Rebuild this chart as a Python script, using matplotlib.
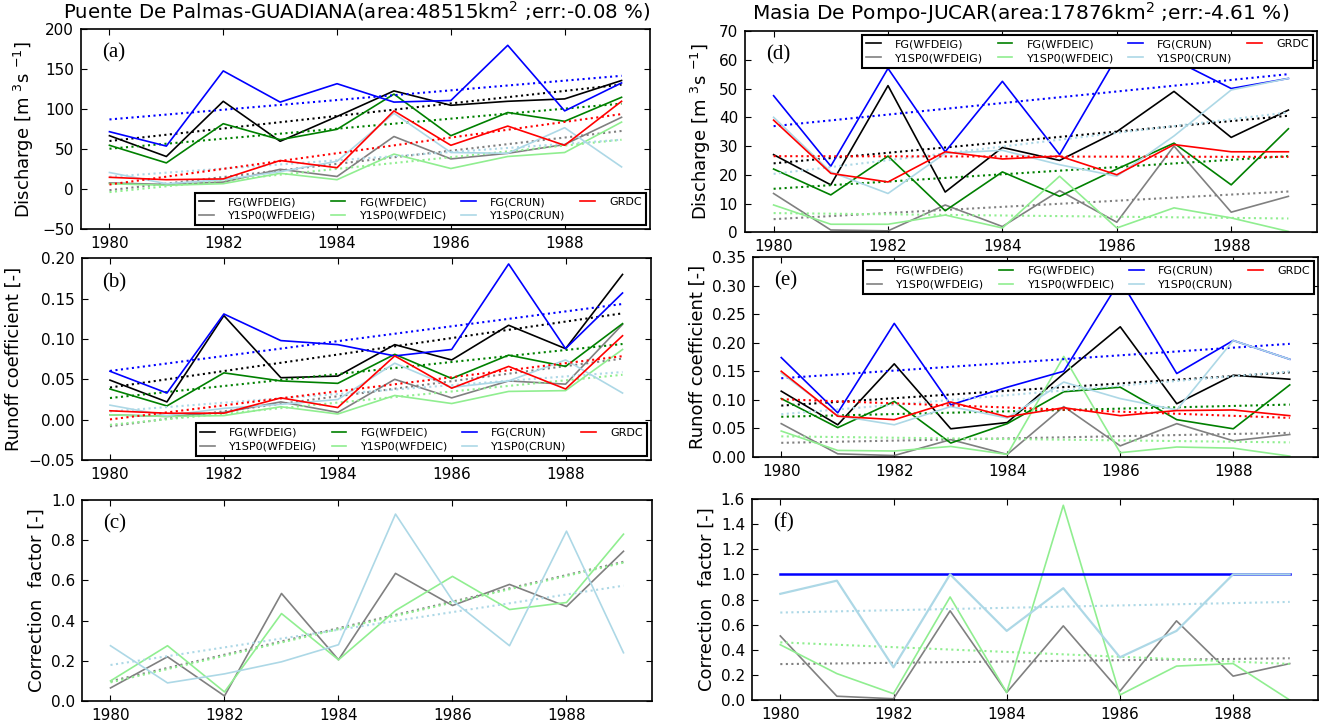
import numpy as np
import matplotlib
matplotlib.use('Agg')
import matplotlib.pyplot as plt

plt.rcParams['font.family'] = ['DejaVu Sans']
plt.rcParams['mathtext.fontset'] = 'dejavusans'

years = [1980, 1981, 1982, 1983, 1984, 1985, 1986, 1987, 1988, 1989]
xticks = [1980, 1982, 1984, 1986, 1988]

labels = ['FG(WFDEIG)', 'Y1SP0(WFDEIG)', 'FG(WFDEIC)', 'Y1SP0(WFDEIC)',
          'FG(CRUN)', 'Y1SP0(CRUN)', 'GRDC']
colors = ['black', 'gray', 'green', 'lightgreen', 'blue', 'lightblue', 'red']

title_left = 'Puente De Palmas-GUADIANA(area:48515km$^2$ ;err:-0.08 %)'
title_right = 'Masia De Pompo-JUCAR(area:17876km$^2$ ;err:-4.61 %)'

# (a) discharge, Puente De Palmas
a_fg_wfdeig = [67, 41, 110, 60, 91, 123, 105, 110, 113, 136]
a_y1_wfdeig = [8, 6, 9, 25, 16, 66, 38, 45, 56, 90]
a_fg_wfdeic = [55, 33, 82, 62, 75, 119, 67, 96, 85, 115]
a_y1_wfdeic = [7, 5, 7, 20, 12, 44, 26, 41, 46, 84]
a_fg_crun = [72, 54, 148, 109, 132, 109, 111, 180, 98, 133]
a_y1_crun = [21, 7, 12, 22, 35, 95, 46, 45, 77, 28]
a_grdc = [15, 12, 13, 36, 27, 98, 55, 79, 55, 110]

# (b) runoff coefficient, Puente De Palmas
b_fg_wfdeig = [0.049, 0.022, 0.129, 0.052, 0.054, 0.093, 0.074, 0.117, 0.088, 0.180]
b_y1_wfdeig = [0.006, 0.004, 0.009, 0.022, 0.009, 0.050, 0.027, 0.048, 0.044, 0.118]
b_fg_wfdeic = [0.038, 0.017, 0.058, 0.048, 0.045, 0.081, 0.051, 0.080, 0.066, 0.119]
b_y1_wfdeic = [0.006, 0.004, 0.005, 0.016, 0.007, 0.030, 0.020, 0.035, 0.036, 0.087]
b_fg_crun = [0.060, 0.033, 0.131, 0.098, 0.093, 0.079, 0.087, 0.193, 0.088, 0.157]
b_y1_crun = [0.018, 0.005, 0.014, 0.019, 0.025, 0.070, 0.040, 0.048, 0.074, 0.033]
b_grdc = [0.011, 0.008, 0.008, 0.027, 0.015, 0.079, 0.039, 0.066, 0.038, 0.104]

# (c) correction factor, Puente De Palmas
c_y1_wfdeig = [0.065, 0.22, 0.025, 0.535, 0.205, 0.635, 0.475, 0.58, 0.47, 0.745]
c_y1_wfdeic = [0.10, 0.275, 0.045, 0.435, 0.205, 0.45, 0.62, 0.455, 0.49, 0.83]
c_y1_crun = [0.275, 0.09, 0.135, 0.195, 0.28, 0.93, 0.50, 0.275, 0.845, 0.24]

# (d) discharge, Masia De Pompo
d_fg_wfdeig = [27, 16.5, 51, 14, 29.5, 25, 35, 49, 33, 42.5]
d_y1_wfdeig = [13.5, 0.8, 0.5, 9.5, 2, 14.5, 3.5, 30, 7, 12.5]
d_fg_wfdeic = [22, 13, 26.5, 7.5, 21, 12.5, 22, 31, 16.5, 36]
d_y1_wfdeic = [9.5, 2.8, 2.8, 6, 1.5, 19.5, 1.5, 8.5, 5, 0.3]
d_fg_crun = [47.5, 23, 57, 28, 52.5, 27, 61, 60, 50, 53.5]
d_y1_crun = [40, 21, 13.5, 27.5, 28.5, 23.5, 19.5, 33.5, 49.5, 53.5]
d_grdc = [39, 20.5, 17.5, 28, 25.5, 26.5, 20, 30.5, 28, 28]

# (e) runoff coefficient, Masia De Pompo
e_fg_wfdeig = [0.115, 0.056, 0.163, 0.049, 0.060, 0.146, 0.228, 0.093, 0.143, 0.136]
e_y1_wfdeig = [0.058, 0.005, 0.002, 0.030, 0.004, 0.088, 0.019, 0.058, 0.028, 0.039]
e_fg_wfdeic = [0.102, 0.051, 0.097, 0.024, 0.058, 0.114, 0.122, 0.065, 0.049, 0.126]
e_y1_wfdeic = [0.045, 0.011, 0.010, 0.018, 0.004, 0.176, 0.007, 0.017, 0.015, 0.001]
e_fg_crun = [0.174, 0.077, 0.234, 0.091, 0.122, 0.150, 0.310, 0.146, 0.204, 0.171]
e_y1_crun = [0.147, 0.072, 0.056, 0.088, 0.068, 0.131, 0.102, 0.082, 0.204, 0.171]
e_grdc = [0.150, 0.071, 0.065, 0.096, 0.070, 0.086, 0.072, 0.081, 0.082, 0.072]

# (f) correction factor, Masia De Pompo
f_y1_wfdeig = [0.51, 0.03, 0.01, 0.71, 0.06, 0.59, 0.07, 0.63, 0.19, 0.29]
f_y1_wfdeic = [0.44, 0.21, 0.05, 0.82, 0.06, 1.55, 0.04, 0.27, 0.29, 0.0]
f_y1_crun = [0.845, 0.95, 0.26, 1.0, 0.55, 0.89, 0.34, 0.55, 1.0, 1.0]
f_fg_crun = [1.0, 1.0, 1.0, 1.0, 1.0, 1.0, 1.0, 1.0, 1.0, 1.0]

W, H = 1325, 721
fig = plt.figure(figsize=(W / 100, H / 100), dpi=100)


def make_ax(l, t, r, b):
    return fig.add_axes([l / W, 1 - b / H, (r - l) / W, (b - t) / H])


def style(ax, ylim, yticks, fmt, ylabel, tag):
    ax.set_xlim(1979.5, 1989.5)
    ax.set_ylim(*ylim)
    ax.set_xticks(xticks)
    ax.set_yticks(yticks)
    ax.set_yticklabels([fmt.format(v).replace('-', '\u2212') for v in yticks])
    ax.tick_params(direction='in', top=True, right=True, length=4.5,
                   width=0.8, labelsize=11, pad=5)
    for s in ax.spines.values():
        s.set_linewidth(1.2)
        s.set_zorder(5)
    ax.set_ylabel(ylabel, fontsize=13, labelpad=4)
    ax.text(0.037, 0.88, tag, transform=ax.transAxes, fontsize=15,
            family='Liberation Serif', ha='left', va='center')


def draw(ax, series, cols, trend_flags=None, widths=None):
    hs = []
    for i, (vals, c) in enumerate(zip(series, cols)):
        lw = widths[i] if widths else 1.2
        h, = ax.plot(years, vals, '-', color=c, lw=lw, zorder=2 + 0.01 * i)
        if trend_flags is None or trend_flags[i]:
            p = np.polyfit(years, vals, 1)
            ax.plot(years, np.polyval(p, years), ':', color=c, lw=1.5,
                    zorder=2 + 0.01 * i)
        hs.append(h)
    return hs


def legend(ax, hs, loc):
    leg = ax.legend(hs, labels, ncol=4, loc=loc, fontsize=8,
                    handlelength=1.3, handletextpad=1.3, columnspacing=1.3,
                    fancybox=False, edgecolor='black', framealpha=1,
                    borderaxespad=0.35, borderpad=0.4, labelspacing=0.35)
    leg.get_frame().set_linewidth(1.5)
    leg.set_zorder(6)


disc_label = 'Discharge [m $^{3}$s $^{-1}$]'
rc_label = 'Runoff coefficient [-]'
cf_label = 'Correction  factor [-]'

# (a)
ax = make_ax(81, 29.3, 650, 229.3)
hs = draw(ax, [a_fg_wfdeig, a_y1_wfdeig, a_fg_wfdeic, a_y1_wfdeic,
               a_fg_crun, a_y1_crun, a_grdc], colors)
style(ax, (-50, 200), [-50, 0, 50, 100, 150, 200], '{:.0f}', disc_label, '(a)')
legend(ax, hs, 'lower right')
ax.set_title(title_left, fontsize=14.2, pad=8, x=0.485)

# (b)
ax = make_ax(81.5, 258.3, 651, 460)
hs = draw(ax, [b_fg_wfdeig, b_y1_wfdeig, b_fg_wfdeic, b_y1_wfdeic,
               b_fg_crun, b_y1_crun, b_grdc], colors)
style(ax, (-0.05, 0.20), [-0.05, 0.0, 0.05, 0.10, 0.15, 0.20], '{:.2f}', rc_label, '(b)')
legend(ax, hs, 'lower right')

# (c)
ax = make_ax(82, 500, 652, 701)
draw(ax, [c_y1_wfdeig, c_y1_wfdeic, c_y1_crun],
     ['gray', 'lightgreen', 'lightblue'])
style(ax, (0, 1.0), [0.0, 0.2, 0.4, 0.6, 0.8, 1.0], '{:.1f}', cf_label, '(c)')

# (d)
ax = make_ax(745, 31, 1317, 232.3)
hs = draw(ax, [d_fg_wfdeig, d_y1_wfdeig, d_fg_wfdeic, d_y1_wfdeic,
               d_fg_crun, d_y1_crun, d_grdc], colors)
style(ax, (0, 70), [0, 10, 20, 30, 40, 50, 60, 70], '{:.0f}', disc_label, '(d)')
legend(ax, hs, 'upper right')
ax.set_title(title_right, fontsize=14.5, pad=8, x=0.482)

# (e)
ax = make_ax(753, 257.3, 1318, 456.7)
hs = draw(ax, [e_fg_wfdeig, e_y1_wfdeig, e_fg_wfdeic, e_y1_wfdeic,
               e_fg_crun, e_y1_crun, e_grdc], colors)
style(ax, (0, 0.35), [0.0, 0.05, 0.10, 0.15, 0.20, 0.25, 0.30, 0.35], '{:.2f}', rc_label, '(e)')
legend(ax, hs, 'upper right')

# (f)
ax = make_ax(752, 499, 1318, 700)
draw(ax, [f_y1_wfdeig, f_y1_wfdeic, f_fg_crun, f_y1_crun],
     ['gray', 'lightgreen', 'blue', 'lightblue'],
     trend_flags=[True, True, False, True], widths=[1.2, 1.2, 1.8, 1.6])
style(ax, (0, 1.6), [0.0, 0.2, 0.4, 0.6, 0.8, 1.0, 1.2, 1.4, 1.6], '{:.1f}', cf_label, '(f)')

fig.savefig('out.png', dpi=100)
